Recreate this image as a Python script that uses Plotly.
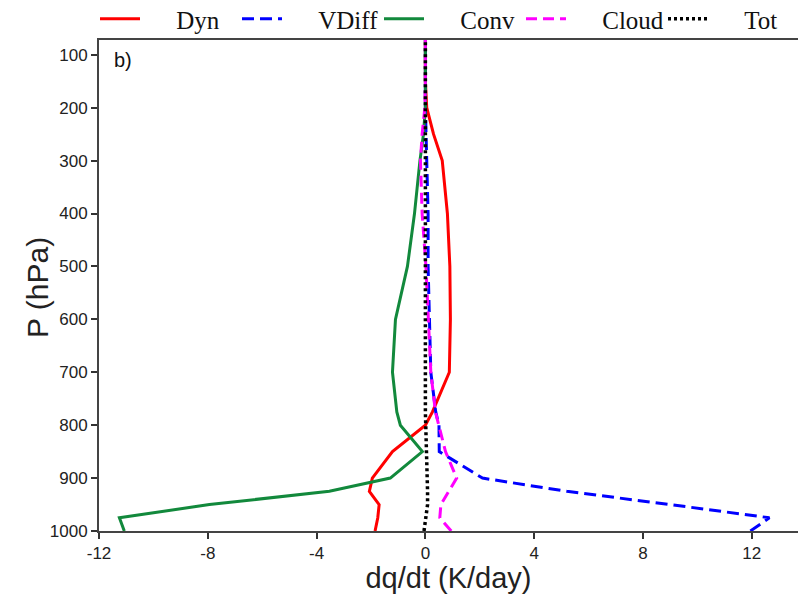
import plotly.graph_objects as go

# Pressure levels (hPa)
pressure = [1000, 975, 950, 925, 900, 850, 800, 775, 700, 600, 500, 400, 300, 250, 200, 150, 100, 72]

# Moisture tendency terms (K/day)
dyn   = [-1.85, -1.75, -1.70, -2.06, -1.95, -1.21, 0.00, 0.26, 0.88, 0.92, 0.90, 0.81, 0.62, 0.30, 0.05, 0.0, 0.0, 0.0]
vdiff = [11.95, 12.65, 9.00, 5.20, 2.10, 0.51, 0.50, 0.38, 0.20, 0.15, 0.10, 0.10, 0.05, 0.02, 0.0, 0.0, 0.0, 0.0]
conv  = [-11.07, -11.25, -7.94, -3.53, -1.29, -0.11, -0.92, -1.05, -1.21, -1.10, -0.66, -0.40, -0.20, -0.07, 0.0, 0.0, 0.0, 0.0]
cloud = [0.95, 0.53, 0.57, 0.85, 1.15, 0.74, 0.50, 0.37, 0.20, 0.10, 0.02, -0.12, -0.18, -0.12, -0.02, 0.0, 0.0, 0.0]
tot   = [-0.05, 0.03, 0.08, 0.08, 0.07, 0.05, 0.0, 0.0, 0.0, 0.0, 0.0, 0.0, 0.0, 0.0, 0.0, 0.0, 0.0, 0.0]

series_names = ["Dyn", "VDiff", "Conv", "Cloud", "Tot"]
series_values = [dyn, vdiff, conv, cloud, tot]
series_colors = ["#ff0000", "#0000ff", "#12893c", "#ff00ff", "#000000"]
series_dash = ["solid", "12px,6px", "solid", "11px,6px", "3px,3px"]
series_width = [3, 3, 3, 3, 3.5]

x_ticks = [-12, -8, -4, 0, 4, 8, 12]
y_ticks = [100, 200, 300, 400, 500, 600, 700, 800, 900, 1000]

W, H = 798, 594
ML, MR, MT, MB = 99, 0, 40, 63
PW, PH = W - ML - MR, H - MT - MB

fig = go.Figure()
pad = "\u00a0" * 5
legend_ids = ["legend", "legend2", "legend3", "legend4", "legend5"]
for i, (name, vals, col, dash, lw) in enumerate(zip(series_names, series_values, series_colors, series_dash, series_width)):
    fig.add_trace(go.Scatter(
        x=vals, y=pressure, mode="lines", name=pad + name,
        line=dict(color=col, width=lw, dash=dash),
        legend=legend_ids[i],
    ))

legend_common = dict(
    orientation="h", xanchor="left", yanchor="middle",
    xref="container", yref="container",
    font=dict(family="Liberation Serif", size=25, color="#111"),
    itemwidth=40, bgcolor="rgba(0,0,0,0)", borderwidth=0,
)
legend_layout = {}
for i, lid in enumerate(legend_ids):
    x_px = 95 + 142 * i
    legend_layout[lid] = dict(legend_common, x=x_px / W, y=1 - 19 / H)

fig.update_layout(
    width=W, height=H,
    margin=dict(l=ML, r=MR, t=MT, b=MB, autoexpand=False),
    paper_bgcolor="white", plot_bgcolor="white",
    showlegend=True,
    annotations=[
        dict(
            text="b)", x=0.018, y=0.985, xref="paper", yref="paper",
            xanchor="left", yanchor="top", showarrow=False,
            font=dict(family="Liberation Sans", size=20, color="#111"),
        ),
        dict(
            text="P (hPa)", x=(37 - ML) / PW, y=1 - (287 - MT) / PH,
            xref="paper", yref="paper",
            xanchor="center", yanchor="middle", textangle=-90, showarrow=False,
            font=dict(family="Liberation Sans", size=30, color="#222"),
        ),
    ],
    **legend_layout,
)

fig.update_xaxes(
    range=[-12, 13.7], tickvals=x_ticks, ticktext=[str(v) for v in x_ticks],
    showgrid=False, zeroline=False,
    showline=True, linecolor="#444", linewidth=2, mirror=True,
    ticks="outside", ticklen=6, tickwidth=1.5, tickcolor="#333",
    tickfont=dict(family="Liberation Sans", size=17, color="#222"),
    title=dict(text="dq/dt (K/day)", font=dict(family="Liberation Sans", size=29, color="#222"), standoff=6),
)
fig.update_yaxes(
    range=[1000, 72], tickvals=y_ticks, ticktext=[str(v) for v in y_ticks],
    showgrid=False, zeroline=False,
    showline=True, linecolor="#444", linewidth=2,
    ticks="outside", ticklen=6, tickwidth=1.5, tickcolor="#333",
    tickfont=dict(family="Liberation Sans", size=17, color="#222"),
)

fig.write_html(
    "out.html",
    config={"displayModeBar": False},
    post_script="document.body.style.margin='0';document.body.style.overflow='hidden';",
)
